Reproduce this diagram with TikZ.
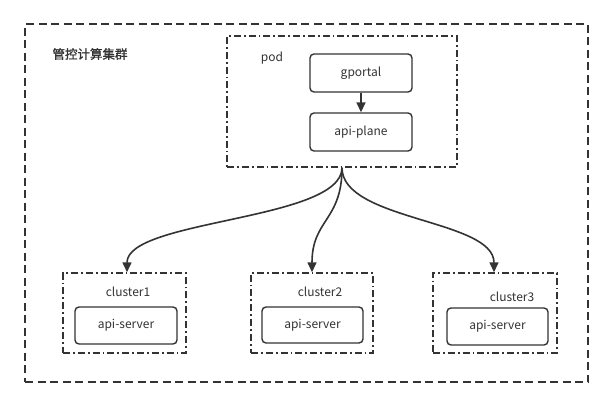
\documentclass[tikz,border=0pt]{standalone}
\usepackage{fontspec}
\setmainfont{Noto Sans CJK SC}
\newfontfamily\titlefont{Noto Sans CJK SC}[FakeBold=1.2]
\usetikzlibrary{arrows.meta,calc}
\definecolor{ink}{HTML}{333333}
\definecolor{txt}{HTML}{333333}
\tikzset{
  group/.style={draw=ink, line width=1.5pt, dashed, dash pattern=on 8pt off 4.5pt},
  ddbox/.style={draw=ink, line width=1.5pt, dash pattern=on 7pt off 3pt on 1.8pt off 3pt},
  item/.style={draw=ink, line width=1.4pt, rounded corners=4pt, text=txt,
    font=\fontsize{12}{14}\selectfont, inner sep=0pt},
  lbl/.style={text=txt, font=\fontsize{12}{14}\selectfont, inner sep=0pt},
  conn/.style={draw=ink, line width=1.6pt, -{Triangle[length=10pt,width=9pt]}},
}
\begin{document}
\begin{tikzpicture}[x=1pt, y=-1pt]
  \useasboundingbox (0,0) rectangle (613,407);
  \fill[white] (0,0) rectangle (613,407);

  % management cluster frame
  \node[group, minimum width=563pt, minimum height=358pt] (mgmt) at (306.5,203) {};
  \node[lbl, font=\titlefont\fontsize{12.5}{14}\selectfont] (mgmtlbl) at (90,54) {管控计算集群};

  % pod with its two containers
  \node[ddbox, minimum width=230pt, minimum height=131pt] (pod) at (342,101.5) {};
  \node[lbl] (podlbl) at (272,58) {pod};
  \node[item, minimum width=102pt, minimum height=38pt] (gportal) at (361,73) {gportal};
  \node[item, minimum width=102pt, minimum height=38pt] (apiplane) at (361,132) {api-plane};
  \draw[conn] (gportal) -- (apiplane);

  % member clusters
  \node[ddbox, minimum width=123pt, minimum height=80pt] (c1) at (124.5,313) {};
  \node[lbl] (c1lbl) at (128,292) {cluster1};
  \node[item, minimum width=102pt, minimum height=37pt] (s1) at (126,325.5) {api-server};

  \node[ddbox, minimum width=122pt, minimum height=80pt] (c2) at (312,313) {};
  \node[lbl] (c2lbl) at (320,292) {cluster2};
  \node[item, minimum width=101pt, minimum height=36pt] (s2) at (312.5,325) {api-server};

  \node[ddbox, minimum width=124pt, minimum height=80pt] (c3) at (495,313) {};
  \node[lbl] (c3lbl) at (512,297) {cluster3};
  \node[item, minimum width=101pt, minimum height=37pt] (s3) at (497.5,326.5) {api-server};

  % fan-out from the pod to each cluster
  \draw[conn] (pod.south) .. controls +(0,53) and +(0,-53) .. ($(c1.north)+(2.5,0)$);
  \draw[conn] (pod.south) .. controls +(0,53) and +(0,-53) .. (c2.north);
  \draw[conn] (pod.south) .. controls +(0,53) and +(0,-53) .. ($(c3.north)+(-1,0)$);
\end{tikzpicture}
\end{document}
